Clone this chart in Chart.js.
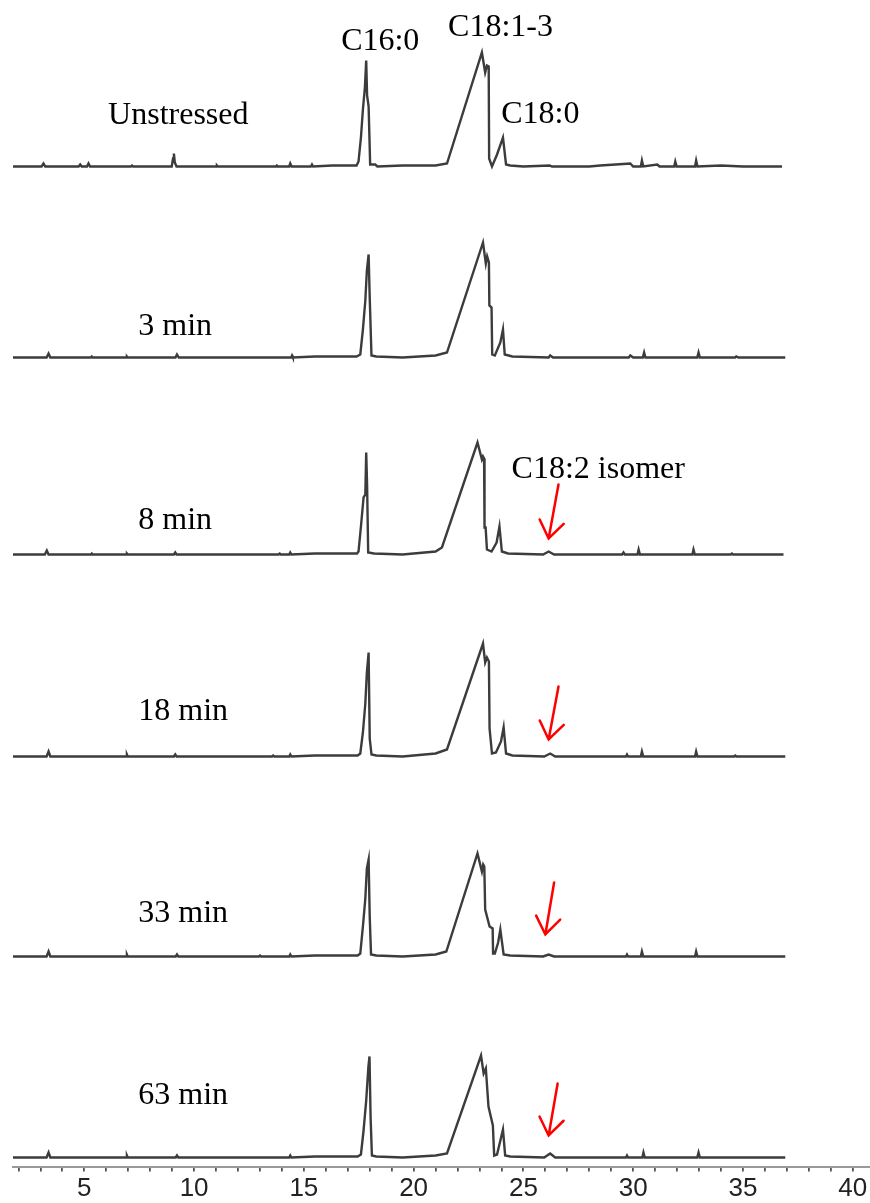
<!DOCTYPE html>
<html>
<head>
<meta charset="utf-8">
<script src="https://cdn.jsdelivr.net/npm/chart.js@4.4.1/dist/chart.umd.min.js"></script>
<style>
  html, body { margin: 0; padding: 0; background: #fff; }
  #wrap { width: 870px; height: 1203px; position: relative; }
</style>
</head>
<body>
<div id="wrap"><canvas id="gc"></canvas></div>
<script>
// GC traces: [retention time (min), detector signal]
const unstressed = [[1.75,0],[3.05,0],[3.14,3],[3.22,0],[4.74,0],[4.81,2],[4.88,0],[5.12,0],[5.19,3],[5.26,0],[7.12,0],[7.17,1],[7.22,0],[8.98,0],[9.04,8],[9.08,13],[9.12,4],[9.2,0],[11.0,0],[11.04,1],[11.08,0],[13.73,0],[13.77,1],[13.81,0],[14.33,0],[14.38,3],[14.44,0],[15.32,0],[15.37,2],[15.42,0],[16.3,1],[17.4,1],[17.49,5],[17.6,29],[17.69,57],[17.78,79],[17.84,106],[17.88,71],[17.95,60],[18.02,2],[18.25,2],[18.35,0],[19.5,1],[21.0,1],[21.52,3],[23.11,114],[23.26,94],[23.34,101],[23.42,100],[23.44,8],[23.57,0],[23.8,12],[24.07,29],[24.21,2],[24.4,1],[25.0,0],[26.2,1],[26.3,0],[28.0,0],[28.5,1],[29.2,2],[29.87,3],[30.0,0],[30.35,0],[30.4,6],[30.46,0],[31.1,2],[31.2,0],[31.87,0],[31.92,5],[31.98,0],[32.82,0],[32.87,6],[32.93,0],[34.0,1],[35.0,0],[36.78,0]];
const min3 = [[1.75,0],[3.28,0],[3.37,4],[3.45,0],[5.3,0],[5.34,1],[5.38,0],[6.9,0],[6.94,1],[6.98,0],[9.15,0],[9.22,3],[9.3,0],[14.42,0],[14.46,2],[14.5,0],[15.5,1],[16.1,1],[17.4,1],[17.57,3],[17.69,28],[17.8,57],[17.87,87],[17.95,103],[18.0,60],[18.08,2],[18.3,1],[19.5,0],[21.0,2],[21.52,5],[23.16,115],[23.29,94],[23.35,101],[23.43,95],[23.45,52],[23.55,50],[23.58,3],[23.7,2],[23.95,15],[24.07,28],[24.15,3],[24.5,1],[26.15,0],[26.22,2],[26.35,0],[29.8,0],[29.87,2],[30.0,0],[30.44,0],[30.5,5],[30.56,0],[32.92,0],[32.98,5],[33.04,0],[34.65,0],[34.7,1],[34.8,0],[36.93,0]];
const min8 = [[1.75,0],[3.2,0],[3.29,4],[3.37,0],[5.3,0],[5.34,1],[5.38,0],[6.9,0],[6.94,1],[6.98,0],[9.08,0],[9.14,2],[9.2,0],[13.85,0],[13.9,1],[13.95,0],[14.33,0],[14.38,2],[14.43,0],[15.5,1],[16.1,1],[17.42,1],[17.49,3],[17.6,28],[17.72,57],[17.8,60],[17.84,102],[17.88,70],[17.93,2],[18.2,1],[19.5,0],[21.0,3],[21.29,7],[22.91,112],[23.11,95],[23.16,98],[23.21,96],[23.23,27],[23.28,27],[23.34,5],[23.55,3],[23.78,12],[23.91,28],[24.02,3],[24.3,1],[25.9,0],[26.15,3],[26.4,0],[29.5,0],[29.56,2],[29.62,0],[30.2,0],[30.25,5],[30.31,0],[32.7,0],[32.75,5],[32.81,0],[34.45,0],[34.5,1],[34.55,0],[36.85,0]];
const min18 = [[1.75,0],[3.28,0],[3.37,5],[3.45,0],[6.9,0],[6.94,2],[6.98,0],[9.08,0],[9.14,2],[9.2,0],[13.55,0],[13.6,1],[13.65,0],[14.33,0],[14.38,2],[14.43,0],[15.5,1],[16.1,1],[17.45,1],[17.57,3],[17.69,24],[17.8,53],[17.87,84],[17.95,104],[18.0,18],[18.08,2],[18.3,1],[19.5,0],[21.0,3],[21.52,7],[23.16,113],[23.26,94],[23.34,99],[23.43,95],[23.46,28],[23.57,3],[23.75,4],[23.98,15],[24.1,29],[24.21,3],[24.5,1],[25.95,0],[26.22,3],[26.45,0],[29.67,0],[29.72,2],[29.77,0],[30.35,0],[30.4,5],[30.46,0],[32.82,0],[32.87,5],[32.93,0],[34.6,0],[34.65,1],[34.7,0],[36.93,0]];
const min33 = [[1.75,0],[3.28,0],[3.37,5],[3.45,0],[6.9,0],[6.94,2],[6.98,0],[9.16,0],[9.22,2],[9.28,0],[12.95,0],[13.0,1],[13.05,0],[14.33,0],[14.38,2],[14.43,0],[15.5,1],[16.1,1],[17.45,1],[17.57,3],[17.69,30],[17.8,58],[17.87,88],[17.95,97],[18.0,40],[18.06,2],[18.3,1],[19.5,0],[21.0,2],[21.49,5],[22.91,103],[23.11,85],[23.17,92],[23.22,90],[23.26,47],[23.46,30],[23.6,28],[23.62,3],[23.7,3],[23.85,14],[23.95,27],[24.1,2],[24.4,1],[25.9,0],[26.15,2],[26.4,0],[29.67,0],[29.72,2],[29.77,0],[30.35,0],[30.4,5],[30.46,0],[32.82,0],[32.87,5],[32.93,0],[36.93,0]];
const min63 = [[1.75,0],[3.28,0],[3.37,5],[3.45,0],[6.9,0],[6.94,2],[6.98,0],[9.16,0],[9.22,2],[9.28,0],[14.33,0],[14.38,2],[14.43,0],[15.5,1],[16.1,1],[17.45,1],[17.6,3],[17.72,27],[17.84,57],[17.94,91],[17.99,101],[18.04,40],[18.1,2],[18.3,1],[19.5,0],[21.0,2],[21.52,4],[23.07,102],[23.19,84],[23.29,89],[23.41,51],[23.61,32],[23.67,2],[23.8,3],[24.07,28],[24.17,2],[24.4,1],[25.95,0],[26.22,4],[26.45,0],[29.67,0],[29.72,2],[29.77,0],[30.42,0],[30.47,5],[30.53,0],[32.92,0],[32.98,5],[33.04,0],[36.93,0]];

const traces = [unstressed, min3, min8, min18, min33, min63];
const sampleLabels = ['Unstressed', '3 min', '8 min', '18 min', '33 min', '63 min'];
const peakLabels = ['C16:0', 'C18:1-3', 'C18:0', 'C18:2 isomer'];
const tickLabels = [5, 10, 15, 20, 25, 30, 35, 40];

// layout: vertical shift of each trace (signal units above the axis)
const baseOffsets = [1000, 809, 612, 410, 210, 9];
const AXIS_H = 36.5;
const PLOT_H = 1203 - AXIS_H;

// text placement [x in min, y in signal units], alphabetic baseline
const samplePos = [[9.28, 1042.5], [9.14, 831.5], [9.14, 637.5], [9.5, 446.5], [9.5, 244.5], [9.5, 62.5]];
const peakPos = [[18.48, 1116.5], [23.96, 1131], [25.77, 1043.5], [28.41, 688.5]];

// red arrows marking the isomer: trace index, tail and tip (signal above that trace's baseline)
const arrows = [
  { trace: 2, tail: [26.6, 70], tip: [26.15, 16] },
  { trace: 3, tail: [26.6, 70], tip: [26.15, 17] },
  { trace: 4, tail: [26.4, 74], tip: [26.0, 22] },
  { trace: 5, tail: [26.56, 74], tip: [26.15, 22] },
];

const overlay = {
  id: 'overlay',
  afterDatasetsDraw(chart) {
    const { ctx, scales: { x, y } } = chart;
    ctx.save();
    ctx.fillStyle = '#000';
    ctx.font = '32px "Liberation Serif", "Times New Roman", serif';
    ctx.textAlign = 'center';
    ctx.textBaseline = 'alphabetic';
    sampleLabels.forEach((t, i) => {
      ctx.fillText(t, x.getPixelForValue(samplePos[i][0]), y.getPixelForValue(samplePos[i][1]));
    });
    peakLabels.forEach((t, i) => {
      ctx.fillText(t, x.getPixelForValue(peakPos[i][0]), y.getPixelForValue(peakPos[i][1]));
    });

    ctx.strokeStyle = '#ff0000';
    ctx.lineWidth = 2.5;
    ctx.lineCap = 'round';
    arrows.forEach((a) => {
      const off = baseOffsets[a.trace];
      const x0 = x.getPixelForValue(a.tail[0]);
      const y0 = y.getPixelForValue(off + a.tail[1]);
      const x1 = x.getPixelForValue(a.tip[0]);
      const y1 = y.getPixelForValue(off + a.tip[1]);
      const ang = Math.atan2(y1 - y0, x1 - x0);
      const len = 21;
      ctx.beginPath();
      ctx.moveTo(x0, y0);
      ctx.lineTo(x1, y1);
      ctx.moveTo(x1 - len * Math.cos(ang - 0.62), y1 - len * Math.sin(ang - 0.62));
      ctx.lineTo(x1, y1);
      ctx.lineTo(x1 - len * Math.cos(ang + 0.62), y1 - len * Math.sin(ang + 0.62));
      ctx.stroke();
    });
    ctx.restore();
  },
};

new Chart(document.getElementById('gc'), {
  type: 'scatter',
  data: {
    datasets: traces.map((pts, i) => ({
      label: sampleLabels[i],
      data: pts.map(([rt, s]) => ({ x: rt, y: baseOffsets[i] + s })),
      showLine: true,
      pointRadius: 0,
      borderColor: '#3c3c3c',
      borderWidth: 2.4,
      tension: 0,
    })),
  },
  options: {
    responsive: true,
    maintainAspectRatio: false,
    animation: false,
    layout: { padding: { left: 13, right: 0, top: 0, bottom: 0 } },
    plugins: { legend: { display: false }, tooltip: { enabled: false } },
    scales: {
      x: {
        type: 'linear',
        min: 1.75,
        max: 40.79,
        afterBuildTicks: (axis) => {
          const t = [];
          for (let v = 2; v <= 40; v++) t.push({ value: v });
          axis.ticks = t;
        },
        afterFit: (axis) => { axis.height = AXIS_H; },
        ticks: {
          autoSkip: false,
          maxRotation: 0,
          padding: 2,
          color: '#222',
          font: { family: '"Liberation Sans", Arial, sans-serif', size: 26 },
          callback: (v) => (tickLabels.includes(v) ? String(v) : ''),
        },
        grid: { drawOnChartArea: false, drawTicks: true, tickLength: 5, color: '#555', lineWidth: 1.8 },
        border: { color: '#9a9a9a', width: 2 },
      },
      y: {
        display: false,
        min: 0,
        max: PLOT_H,
      },
    },
  },
  plugins: [overlay],
});
</script>
</body>
</html>
